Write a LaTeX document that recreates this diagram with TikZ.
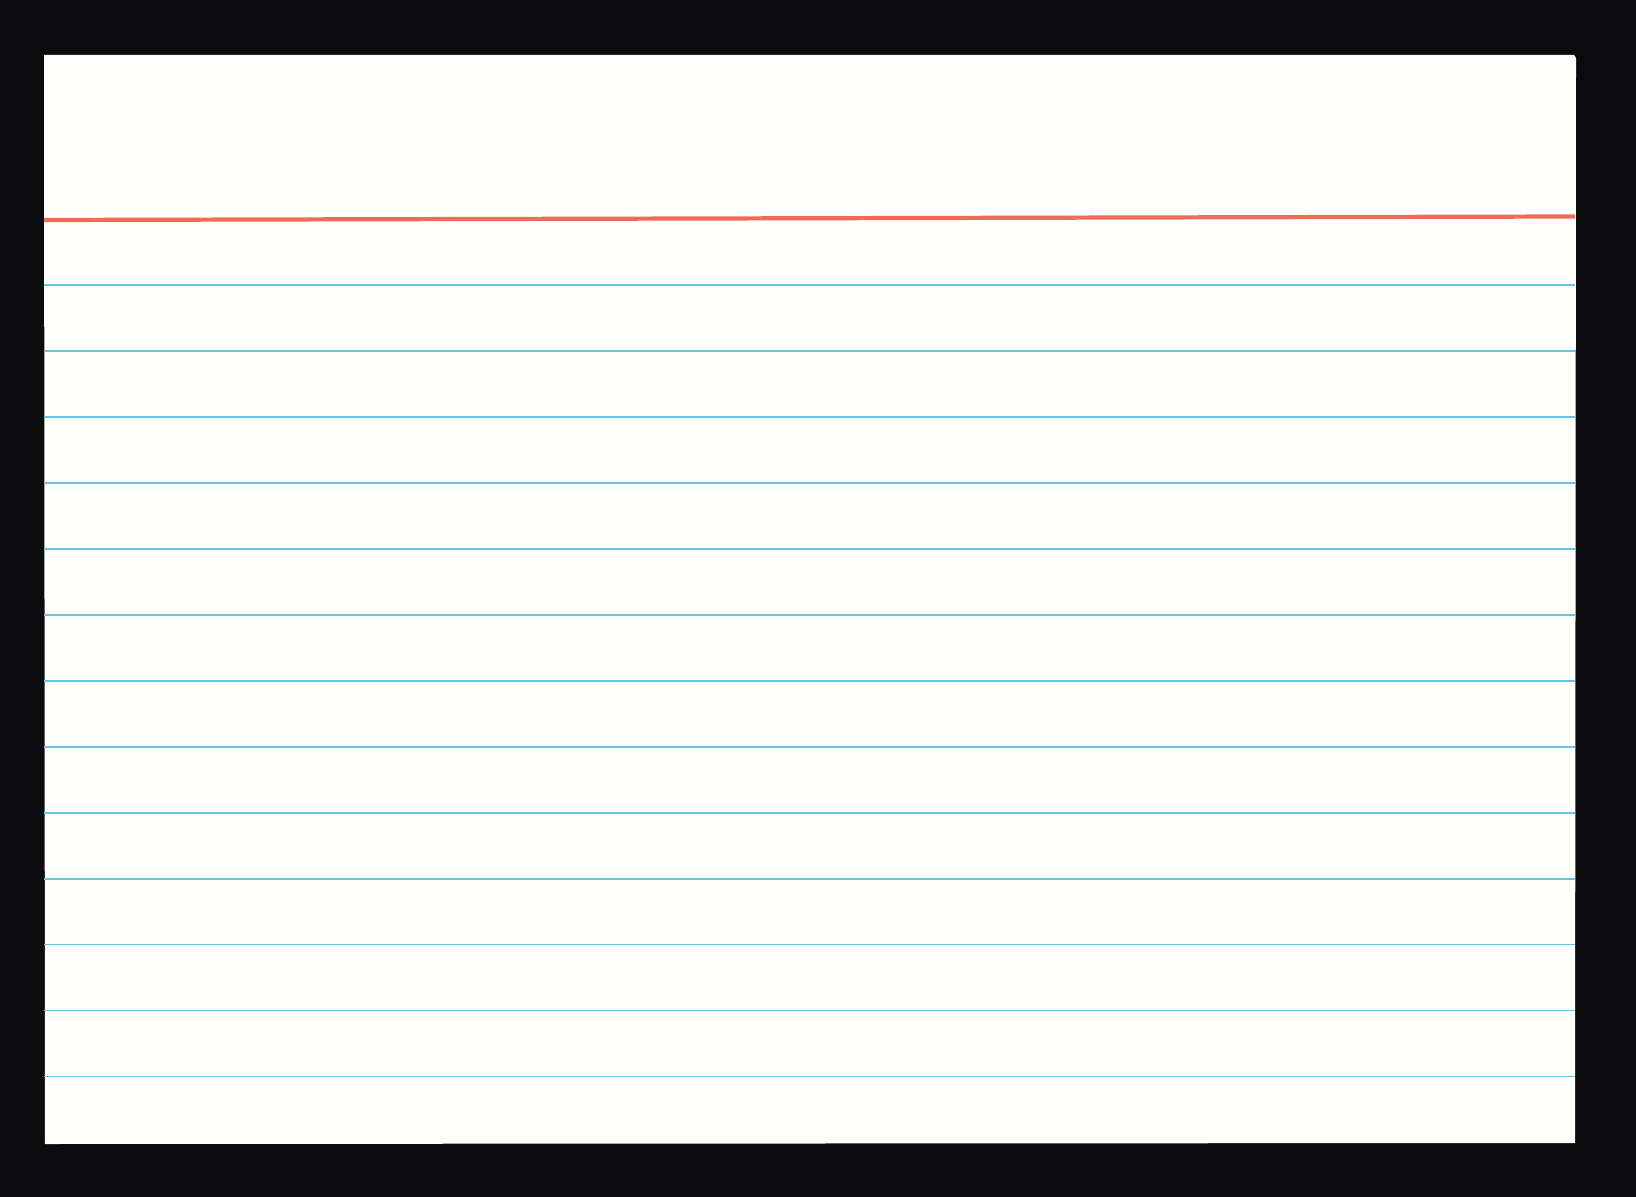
\documentclass[tikz,border=0pt]{standalone}
\definecolor{bgblack}{RGB}{12,12,14}
\definecolor{cardwhite}{RGB}{255,255,253}
\definecolor{redrule}{RGB}{240,108,88}
\definecolor{bluerule}{RGB}{105,195,228}
\tikzset{
  cardbox/.style={fill=cardwhite, draw=none},
  redline/.style={draw=redrule, line width=1.2pt},
  blueline/.style={draw=bluerule, line width=0.45pt}
}
\begin{document}
\begin{tikzpicture}[x=0.01cm, y=-0.01cm]
  \fill[bgblack] (0,0) rectangle (1636,1197);
  \useasboundingbox (0,0) rectangle (1636,1197);
  \fill[cardbox] (44,55) -- (1574,55) -- (1576,58) -- (1575,1143) -- (45,1144) -- cycle;
  \coordinate (rl) at (44,220);
  \coordinate (rr) at (1575,216.5);
  \draw[redline] (rl) -- (rr);
  \foreach \i in {0,...,12} {
    \coordinate (bl\i) at (44,{285+65.97*\i});
    \coordinate (br\i) at (1575,{285+65.97*\i});
    \draw[blueline] (bl\i) -- (br\i);
  }
\end{tikzpicture}
\end{document}
